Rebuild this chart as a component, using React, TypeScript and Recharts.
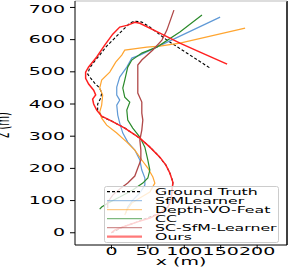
import { Legend, Line, LineChart, ReferenceLine, XAxis, YAxis } from 'recharts'

// trajectories as [x, z] in metres
const groundTruth: [number, number][] = [
  [0, 0], [15.6, 17.7], [34.8, 33.2], [66.5, 61.2], [77.5, 79.8], [81.7, 101.6], [84.4, 157.5],
  [80.3, 185.4], [74.8, 210.3], [63.8, 241.3], [50, 272.4], [34.8, 300.4], [18.3, 325.2],
  [0.4, 347], [-12, 359.4], [-18.9, 381.1], [-18.9, 399.8], [-14.7, 418.4], [-13.4, 433.9],
  [-16.1, 449.5], [-23, 465], [-28.5, 480.5], [-32.6, 492.9], [-29.9, 511.6], [-23, 533.3],
  [-16.1, 552], [-6.5, 580], [1.8, 598.6], [11.4, 620.4], [18.3, 635.8], [25.2, 651.4],
  [32.1, 657.6], [41.7, 654.5], [52.7, 639], [76.1, 598.6], [107.8, 552], [135.4, 511.6],
]
const sfmLearner: [number, number][] = [
  [19.7, 61.2], [22.4, 79.8], [29.3, 101.6], [39, 123.4], [45.9, 148.2], [45.9, 170],
  [41.7, 194.9], [39, 226], [32.1, 257], [22.4, 281.7], [15.6, 309.7], [11.4, 340.7],
  [8.7, 365.6], [7.3, 396.6], [11.4, 412.2], [7.3, 427.7], [7.3, 452.6], [11.4, 483.6],
  [21.1, 514.7], [28, 542.6], [39, 552], [149.2, 670],
]
const depthVoFeat: [number, number][] = [
  [18.3, 55], [21.1, 70.5], [28, 92.2], [39, 107.8], [52.7, 126.4], [59.6, 154.4], [56.9, 173],
  [50, 201], [41.7, 226], [32.1, 257], [21.1, 281.7], [7.3, 309.7], [-6.5, 334.4],
  [-13.4, 356.2], [-16.1, 374.8], [-13.4, 396.6], [-12, 427.7], [-16.1, 449.5], [-13.4, 474.3],
  [-2.3, 499.1], [5.9, 530.2], [14.2, 552], [18.3, 567.4], [48.6, 576.8], [66.5, 580],
  [94, 589.2], [183.5, 635.8],
]
const cc: [number, number][] = [
  [-16.1, 73.2], [-13.4, 79.8], [-2.3, 95.3], [11.4, 110.9], [29.3, 132.6], [43.1, 154.4],
  [50, 170], [52.7, 194.7], [50, 225.8], [45.9, 266.1], [39, 297.2], [29.3, 325.2],
  [22.4, 350], [21.1, 381.1], [25.2, 405.9], [18.3, 421.4], [15.6, 449.4], [18.3, 474.3],
  [22.4, 514.7], [28, 536.5], [41.7, 558.2], [62.4, 576.8], [94, 623.4], [124.3, 676.2],
]
const scSfmLearner: [number, number][] = [
  [-5.1, 76.3], [-5.1, 95.3], [1.8, 117.1], [11.4, 135.7], [22.4, 154.4], [32.1, 176.1],
  [36.2, 201], [40.4, 225.8], [40.4, 256.9], [39, 287.9], [41.7, 319], [43.1, 350],
  [41.7, 371.8], [41.7, 406], [36.2, 433.9], [36.2, 474.3], [36.2, 520.9], [41.7, 536.5],
  [56.9, 567.6], [69.3, 598.6], [76.1, 629.6], [85.8, 691.7],
]
const ours: [number, number][] = [
  [0, 0], [4.5, 8.4], [15.6, 17.7], [34.8, 33], [52.8, 45.7], [66.5, 61], [77.6, 79.8],
  [81.7, 101.6], [83, 126], [84.4, 157], [80.3, 185], [74.8, 210], [66.5, 235], [52.8, 266],
  [39, 294], [18.3, 325], [-2.3, 350], [-13.4, 362], [-20.2, 381], [-24.4, 400], [-25.8, 415],
  [-21.6, 428], [-24.4, 443], [-31.3, 462], [-35.4, 480], [-35.4, 499], [-31.3, 515],
  [-20.2, 546], [-9.2, 583], [1.8, 617], [11.4, 639], [22.5, 645], [32.1, 654], [39, 651],
  [66.5, 620], [94, 589], [121.6, 561], [158.8, 524],
]

const xTicks = [0, 50, 100, 150, 200]
const zTicks = [0, 100, 200, 300, 400, 500, 600, 700]

const series = [
  { name: 'Ground Truth', points: groundTruth, color: '#000000', width: 1.1, dash: '3 2' },
  { name: 'SfMLearner', points: sfmLearner, color: '#5f99d6', width: 1.2 },
  { name: 'Depth-VO-Feat', points: depthVoFeat, color: '#ffa530', width: 1.2 },
  { name: 'CC', points: cc, color: '#2a8a2a', width: 1.2 },
  { name: 'SC-SfM-Learner', points: scSfmLearner, color: '#b04848', width: 1.3 },
  { name: 'Ours', points: ours, color: '#ff2020', width: 1.5 },
]

const FONT = 'DejaVu Sans'
const SX = 1.9

const XTick = ({ x, y, payload }: any) => (
  <text transform={`translate(${x},${y + 6}) scale(${SX},1)`} textAnchor="middle" fontSize={10} fontFamily={FONT} fill="#000">
    {payload.value}
  </text>
)

const YTick = ({ x, y, payload }: any) => (
  <text transform={`translate(${x},${y + 3.5}) scale(${SX},1)`} textAnchor="end" fontSize={10} fontFamily={FONT} fill="#000">
    {payload.value}
  </text>
)

const XLabel = ({ viewBox }: any) => {
  const cx = viewBox ? viewBox.x + viewBox.width / 2 : 181
  const by = viewBox ? viewBox.y + 19.5 : 264.5
  return (
    <text transform={`translate(${cx},${by}) scale(${SX},1)`} textAnchor="middle" fontSize={10} fontFamily={FONT} fill="#000">
      x (m)
    </text>
  )
}

const YLabel = ({ viewBox }: any) => {
  const cy = viewBox ? viewBox.y + viewBox.height / 2 + 2 : 125
  return (
    <text transform={`translate(9,${cy}) scale(${SX},1) rotate(-90)`} textAnchor="middle" fontSize={10} fontFamily={FONT} fill="#000">
      z (m)
    </text>
  )
}

const LegendBox = () => (
  <svg width={175} height={57} style={{ display: 'block' }}>
    <rect x={0.5} y={0.5} width={174} height={56} rx={2} fill="#ffffff" fillOpacity={0.8} stroke="#cccccc" />
    {series.map((s, i) => (
      <g key={s.name}>
        <line
          x1={3}
          x2={38}
          y1={5.7 + i * 9}
          y2={5.7 + i * 9}
          stroke={s.color}
          strokeOpacity={s.dash ? 1 : 0.6}
          strokeWidth={s.name === 'Ours' ? 2.2 : 1.2}
          strokeDasharray={s.dash}
        />
        <text transform={`translate(51,${9 + i * 9}) scale(1.75,1)`} fontSize={9} fontFamily={FONT} fill="#000">
          {s.name}
        </text>
      </g>
    ))}
  </svg>
)

export default function App() {
  return (
    <div style={{ position: 'absolute', left: 0, top: 0, width: 291, height: 268, background: '#fff' }}>
      <LineChart width={291} height={268} margin={{ top: 1, right: 4, bottom: 0, left: 0 }}>
        <XAxis
          type="number"
          dataKey="x"
          domain={[-50, 241]}
          ticks={xTicks}
          allowDataOverflow
          stroke="#000"
          tickSize={4}
          tickMargin={0}
          tick={<XTick />}
          height={23}
          label={<XLabel />}
        />
        <YAxis
          type="number"
          dataKey="z"
          domain={[-38, 720]}
          ticks={zTicks}
          allowDataOverflow
          stroke="#000"
          width={75}
          tickSize={5}
          tickMargin={5}
          tick={<YTick />}
          label={<YLabel />}
        />
        <ReferenceLine x={241} stroke="#000" strokeWidth={1.5} />
        <ReferenceLine y={720} stroke="#bbbbbb" strokeWidth={1} />
        {series.map((s) => (
          <Line
            key={s.name}
            name={s.name}
            data={s.points.map(([x, z]) => ({ x, z }))}
            dataKey="z"
            type="linear"
            stroke={s.color}
            strokeWidth={s.width}
            strokeDasharray={s.dash}
            dot={false}
            activeDot={false}
            isAnimationActive={false}
          />
        ))}
        <Legend
          layout="vertical"
          align="center"
          verticalAlign="middle"
          content={<LegendBox />}
          wrapperStyle={{ position: 'absolute', left: 104, top: 186, width: 175, height: 57 }}
        />
      </LineChart>
    </div>
  )
}
